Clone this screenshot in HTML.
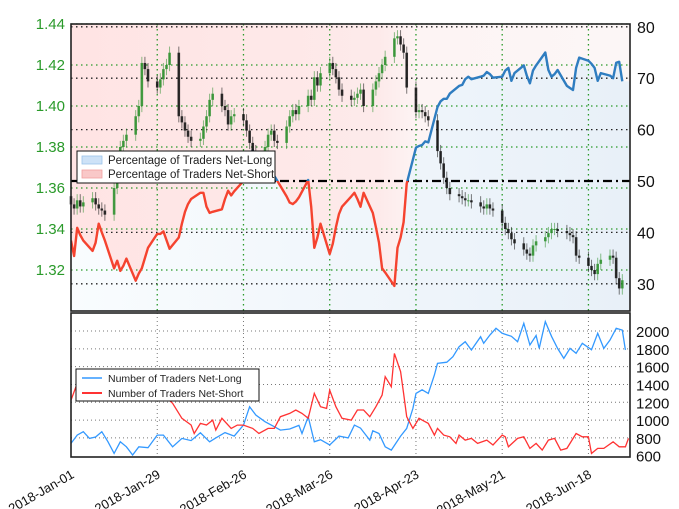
<!DOCTYPE html>
<html><head><meta charset="utf-8">
<style>
html,body{margin:0;padding:0;background:#fff;}
svg{display:block;font-family:"Liberation Sans","DejaVu Sans",sans-serif;}
</style></head>
<body>
<svg id="chart" width="679" height="509" viewBox="0 0 679 509" xmlns="http://www.w3.org/2000/svg">
<defs>
<linearGradient id="pinkGrad" x1="0" x2="1" y1="0" y2="0">
<stop offset="0" stop-color="#ffe4e4"/><stop offset="0.55" stop-color="#fdeaea"/><stop offset="0.62" stop-color="#fdf4f4"/><stop offset="1" stop-color="#fcf6f6"/>
</linearGradient>
<linearGradient id="blueGrad" x1="0" x2="1" y1="0" y2="0">
<stop offset="0" stop-color="#f9fcfe"/><stop offset="1" stop-color="#e8f0f8"/>
</linearGradient>
<clipPath id="mainClip"><rect x="71" y="24" width="559" height="287"/></clipPath>
<clipPath id="below50"><rect x="71" y="181" width="559" height="130"/></clipPath>
<clipPath id="above50"><rect x="71" y="24" width="559" height="157"/></clipPath>
<clipPath id="botClip"><rect x="71" y="313" width="559" height="144"/></clipPath>
</defs>
<g id="main"></g>
<g id="bottom"></g>
</svg>
<script>
// ---- data ----
const tickLabels = ["2018-Jan-01","2018-Jan-29","2018-Feb-26","2018-Mar-26","2018-Apr-23","2018-May-21","2018-Jun-18"];
const tickDays = [0,28,56,84,112,140,168];
const priceTicks = [1.32,1.34,1.36,1.38,1.40,1.42,1.44];
const pctTicks = [30,40,50,60,70,80];
const countTicks = [600,800,1000,1200,1400,1600,1800,2000];
// weekday closes (26 weeks x 5)
const closes = [
1.352,1.350,1.354,1.351,1.353, 1.355,1.352,1.350,1.349,1.347,
1.360,1.375,1.380,1.383,1.386, 1.395,1.400,1.421,1.418,1.412,
1.409,1.413,1.418,1.420,1.426, 1.395,1.392,1.388,1.385,1.383,
1.384,1.390,1.395,1.403,1.406, 1.400,1.398,1.391,1.395,1.396,
1.393,1.388,1.382,1.378,1.376, 1.380,1.386,1.388,1.383,1.382,
1.390,1.395,1.398,1.396,1.400, 1.405,1.403,1.414,1.410,1.416,
1.421,1.418,1.414,1.408,1.405, 1.403,1.404,1.406,1.408,1.400,
1.408,1.412,1.416,1.420,1.424, 1.433,1.434,1.430,1.426,1.409,
1.397,1.398,1.397,1.395,1.393, 1.378,1.372,1.365,1.360,1.357,
1.356,1.355,1.354,1.354,1.353, 1.351,1.350,1.352,1.350,1.349,
1.343,1.340,1.338,1.335,1.333, 1.330,1.328,1.327,1.332,1.334,
1.336,1.338,1.340,1.340,1.339, 1.338,1.337,1.336,1.327,1.326,
1.322,1.320,1.318,1.323,1.325, 1.327,1.326,1.316,1.311,1.315];
const netLongPct = [
38.4,35.4,40.9,39.5,38.4, 36.4,38,41.7,40,38.4,
33,34.5,32.5,33.5,34.9, 30.6,32,33,35,37,
39.7,39.7,40.2,38.5,36.8, 39,41.7,44,45.5,46.5,
47.7,47.7,45,43.8,44, 44.5,46.5,48.1,47.2,48,
50,53,55,56,55, 54,53,52,51,50,
47,45.8,45.5,46,46.8, 50.2,45,37,39,41.7,
35.8,37.8,41,43.6,45, 47,47.7,46.5,45,47.7,
43.8,41,38,33,32.2, 29.6,37,39,42,49.5,
56.5,56.8,57,57.7,57.5, 64.4,65.5,66,66,67,
68.5,68.7,69.8,70.3,69.8, 70.3,70.5,71.2,70.8,70.1,
70.3,71.5,72,69.5,71, 72.5,70.5,69,71.5,72.5,
75,71.6,70.3,70.8,71.6, 68.5,68.1,67.7,72,74,
73.4,72.8,72,69.5,71, 70.5,70,73,73.2,69.4];
const longDays = [0,2,4,6,8,10,12,14,16,18,20,22,25,28,30,33,36,39,42,45,47,50,53,56,58,60,63,66,68,71,74,75,77,79,81,84,87,90,92,94,97,98,100,102,104,107,109,111,112,114,116,118,119,122,124,126,128,130,133,134,136,138,140,143,145,147,149,151,152,154,156,158,160,162,164,166,169,171,173,175,177,179,180];
const longCounts = [739,832,870,795,810,870,757,626,757,700,608,700,690,832,832,700,795,770,858,757,800,860,820,944,1150,1057,982,926,888,900,940,850,1038,757,780,720,820,800,944,910,776,880,850,700,663,820,907,1131,1300,1340,1300,1506,1637,1650,1712,1824,1880,1787,1936,1862,1955,2030,1974,1940,1880,2086,1843,1950,1805,2105,1940,1805,1693,1805,1750,1862,1790,1974,1805,1899,2030,2010,1787];
const shortDays = [0,2,4,7,10,13,16,19,21,23,26,29,31,33,36,39,40,42,44,46,47,49,52,54,56,59,61,64,66,68,71,73,75,77,79,81,83,84,86,88,91,93,95,97,99,101,102,104,105,107,108,109,111,113,114,116,118,119,121,123,125,126,128,130,132,135,137,140,141,142,145,147,149,151,153,155,157,159,161,164,166,168,169,171,173,176,178,180,181];
const shortCounts = [1225,1412,1380,1350,1420,1450,1380,1500,1570,1400,1225,1300,1250,1188,1020,945,850,963,945,1000,888,1020,907,944,944,907,850,907,907,1038,1075,1113,1075,1020,1300,1150,1131,1337,1150,1020,1000,1113,1113,1038,1150,1281,1487,1375,1749,1543,1300,1038,907,1020,1000,963,832,907,832,813,739,832,776,795,739,776,720,832,813,700,795,813,682,739,663,776,795,663,682,850,813,813,626,682,682,757,700,700,795];

// ---- scales ----
const X0=71, X1=630, PX_PER_DAY=3.08;
const xDay = d => X0 + d*PX_PER_DAY;
const yPrice = p => 311 - (p-1.30)/0.14*287;
const yPct = v => 181 - (v-50)*5.14;
const yCount = v => 331 + (2000-v)*0.0891;
const candleDay = i => Math.floor(i/5)*7 + (i%5);

const NS="http://www.w3.org/2000/svg";
function mk(parent, tag, attrs){const e=document.createElementNS(NS,tag);for(const k in attrs)e.setAttribute(k,attrs[k]);parent.appendChild(e);return e;}
const main=document.getElementById('main');
const bottom=document.getElementById('bottom');

// ---- main panel background fills ----
let linePts = netLongPct.map((v,i)=>[xDay(candleDay(i)), yPct(v)]);
let ptsStr = linePts.map(p=>p[0].toFixed(1)+','+p[1].toFixed(1)).join(' ');
let revStr = linePts.slice().reverse().map(p=>p[0].toFixed(1)+','+p[1].toFixed(1)).join(' ');
const lastY=linePts[linePts.length-1][1], firstY=linePts[0][1];
let pink = mk(main,'polygon',{points:`${X0},24 ${X1},24 ${X1},${lastY} ${revStr} ${X0},${firstY}`,fill:'url(#pinkGrad)','clip-path':'url(#mainClip)'});


let blue = mk(main,'polygon',{points:`${X0},311 ${X0},${firstY} ${ptsStr} ${X1},${lastY} ${X1},311`,fill:'url(#blueGrad)','clip-path':'url(#mainClip)'});



// ---- grids ----
pctTicks.forEach(v=>{
  if(v===50) return;
  const g=mk(main,'line',{x1:X0,x2:X1,y1:yPct(v),y2:yPct(v),stroke:'#222','stroke-width':1.3,'stroke-dasharray':'1.5,3.5'});
  
  
});
priceTicks.forEach(v=>{
  const g=mk(main,'line',{x1:X0,x2:X1,y1:yPrice(v),y2:yPrice(v),stroke:'#2a9a2a','stroke-width':1.3,'stroke-dasharray':'1.5,3.5'});
  
  
});
tickDays.forEach((d,i)=>{
  if(i===0) return;
  const g=mk(main,'line',{x1:xDay(d),x2:xDay(d),y1:24,y2:311,stroke:'#2a9a2a','stroke-width':1.3,'stroke-dasharray':'1.5,3.5'});
  
  
});
const fifty=mk(main,'line',{x1:X0,x2:X1,y1:yPct(50),y2:yPct(50),stroke:'#000','stroke-width':2.2,'stroke-dasharray':'9,4,2,4'});



// ---- sentiment line ----
const redLine=mk(main,'polyline',{points:ptsStr,fill:'none',stroke:'#f5432f','stroke-width':2.4,'clip-path':'url(#below50)','stroke-linejoin':'round'});


const blueLine=mk(main,'polyline',{points:ptsStr,fill:'none',stroke:'#2f7dc0','stroke-width':2.4,'clip-path':'url(#above50)','stroke-linejoin':'round'});



// ---- candles ----
closes.forEach((c,i)=>{
  const o = i===0 ? 1.356 : closes[i-1];
  const x = xDay(candleDay(i));
  const up = c>=o;
  const col = up ? '#2b8f2b' : '#111';
  const hi = Math.max(o,c)+0.003, lo=Math.min(o,c)-0.003;
  const w=mk(main,'line',{x1:x,x2:x,y1:yPrice(hi),y2:yPrice(lo),stroke:col,'stroke-width':1,opacity:0.55});
  
  
  const top=yPrice(Math.max(o,c)), bot=yPrice(Math.min(o,c));
  const b=mk(main,'rect',{x:x-1.3,y:top,width:2.6,height:Math.max(1,bot-top),fill:col,opacity:0.85});
  
  
});

// ---- main frame & labels ----
const frame=mk(main,'rect',{x:X0,y:24,width:X1-X0,height:287,fill:'none',stroke:'#222','stroke-width':1.6});


priceTicks.forEach(v=>{
  const t=mk(main,'text',{x:65,y:yPrice(v)+5,'text-anchor':'end','font-size':15,fill:'#2a9a2a'});
  t.textContent=v.toFixed(2);
  
  
});
pctTicks.forEach(v=>{
  const t=mk(main,'text',{x:637,y:yPct(v)+6,'font-size':16,fill:'#111'});
  t.textContent=v;
  
  
});

// ---- main legend ----
const lg=mk(main,'g',{});


mk(lg,'rect',{x:77,y:151,width:198,height:32,fill:'#fff',stroke:'#111','stroke-width':1});
mk(lg,'rect',{x:82,y:156,width:20,height:8,fill:'#cde2f7',stroke:'#9cc4ea','stroke-width':0.8});
mk(lg,'rect',{x:82,y:170,width:20,height:8,fill:'#f9c8c8',stroke:'#f0a0a0','stroke-width':0.8});
let lt1=mk(lg,'text',{x:108,y:164,'font-size':11.5,fill:'#222'});lt1.textContent='Percentage of Traders Net-Long';


let lt2=mk(lg,'text',{x:108,y:178,'font-size':11.5,fill:'#222'});lt2.textContent='Percentage of Traders Net-Short';



// ---- bottom panel ----
countTicks.forEach(v=>{
  if(v===600) return;
  const g=mk(bottom,'line',{x1:X0,x2:X1,y1:yCount(v),y2:yCount(v),stroke:'#777','stroke-width':1,'stroke-dasharray':'1,3'});
  
  
});
tickDays.forEach((d,i)=>{
  if(i===0) return;
  const g=mk(bottom,'line',{x1:xDay(d),x2:xDay(d),y1:313,y2:457,stroke:'#777','stroke-width':1,'stroke-dasharray':'1,3'});
  
  
});
const lp=longDays.map((d,i)=>xDay(d).toFixed(1)+','+yCount(longCounts[i]).toFixed(1)).join(' ');
const ll=mk(bottom,'polyline',{points:lp,fill:'none',stroke:'#3399ff','stroke-width':1.3,'clip-path':'url(#botClip)'});


const sp=shortDays.map((d,i)=>xDay(d).toFixed(1)+','+yCount(shortCounts[i]).toFixed(1)).join(' ');
const sl=mk(bottom,'polyline',{points:sp,fill:'none',stroke:'#ff3333','stroke-width':1.3,'clip-path':'url(#botClip)'});


const bf=mk(bottom,'rect',{x:X0,y:313,width:X1-X0,height:144,fill:'none',stroke:'#222','stroke-width':1.6});


countTicks.forEach(v=>{
  const t=mk(bottom,'text',{x:636,y:yCount(v)+6,'font-size':15,fill:'#111'});
  t.textContent=v;
  
  
});
const lg2=mk(bottom,'g',{});


mk(lg2,'rect',{x:76,y:369,width:183,height:32,fill:'#fff',stroke:'#111','stroke-width':1});
mk(lg2,'line',{x1:82,x2:102,y1:378,y2:378,stroke:'#3399ff','stroke-width':1.5});
mk(lg2,'line',{x1:82,x2:102,y1:393,y2:393,stroke:'#ff3333','stroke-width':2});
let bt1=mk(lg2,'text',{x:108,y:382,'font-size':10.5,fill:'#222'});bt1.textContent='Number of Traders Net-Long';


let bt2=mk(lg2,'text',{x:108,y:397,'font-size':10.5,fill:'#222'});bt2.textContent='Number of Traders Net-Short';



// ---- date labels ----
tickDays.forEach((d,i)=>{
  const x=xDay(d);
  const t=mk(bottom,'text',{x:x+4,y:477,'text-anchor':'end','font-size':13,fill:'#111',transform:`rotate(-30 ${x+4} 477)`});
  t.textContent=tickLabels[i];
  
  
});
</script>
</body></html>
